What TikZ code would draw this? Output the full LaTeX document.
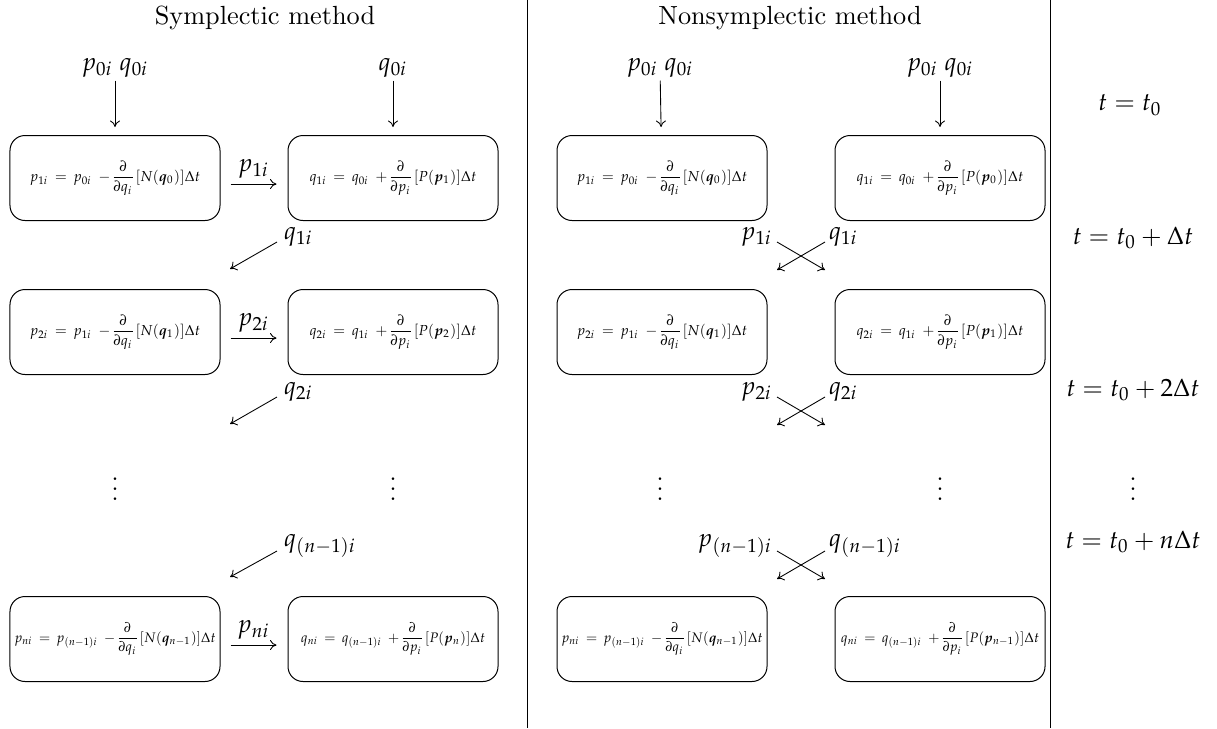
\documentclass[tikz,border=0pt]{standalone}
\usepackage[sc]{mathpazo}
\usepackage{bm}
\renewcommand\rmdefault{lmr}
\usetikzlibrary{arrows.meta}
\tikzset{
  eqbox/.style={draw, rounded corners=6pt, minimum width=84pt, minimum height=34pt, inner sep=0pt, font=\fontsize{5.8}{7}\selectfont, line width=0.4pt},
  eqboxn/.style={eqbox, font=\fontsize{5.5}{7}\selectfont},
  arr/.style={-{To[length=2.6pt,width=4pt]}, line width=0.35pt},
  lab/.style={inner sep=1pt, font=\normalsize},
  title/.style={font=\fontsize{10.5}{12}\selectfont},
  sep/.style={line width=0.35pt}
}
\newcommand{\dd}[1]{\frac{\partial}{\partial #1}}
\newcommand{\eqn}[1]{$\displaystyle #1$}
\begin{document}
\begin{tikzpicture}[x=0.4pt,y=-0.4pt]
\useasboundingbox (0,0) rectangle (1217,728);
% separators
\coordinate (s1t) at (527,0); \coordinate (s1b) at (527,728);
\coordinate (s2t) at (1050,0); \coordinate (s2b) at (1050,728);
\draw[sep] (s1t) -- (s1b);
\draw[sep] (s2t) -- (s2b);
% titles
\node[title] (t1) at (265,18) {Symplectic method};
\node[title] (t2) at (790,18) {Nonsymplectic method};
% ---------- symplectic ----------
\node[eqbox] (a1) at (115,178) {\eqn{p_{1i}\,=\,p_{0i}\;\,{-}\dd{q_i}[N(\bm{q}_0)]\Delta t}};
\node[eqbox] (b1) at (393,178) {\eqn{q_{1i}\,=\,q_{0i}\;\,{+}\dd{p_i}[P(\bm{p}_1)]\Delta t}};
\node[eqbox] (a2) at (115,332) {\eqn{p_{2i}\,=\,p_{1i}\;\,{-}\dd{q_i}[N(\bm{q}_1)]\Delta t}};
\node[eqbox] (b2) at (393,332) {\eqn{q_{2i}\,=\,q_{1i}\;\,{+}\dd{p_i}[P(\bm{p}_2)]\Delta t}};
\node[eqboxn] (a3) at (115,639) {\eqn{p_{ni}\,=\,p_{(n-1)i}\;\,{-}\dd{q_i}[N(\bm{q}_{n-1})]\Delta t}};
\node[eqboxn] (b3) at (393,639) {\eqn{q_{ni}\,=\,q_{(n-1)i}\;\,{+}\dd{p_i}[P(\bm{p}_n)]\Delta t}};
\node[lab] (la0) at (115,68) {$p_{0i}\;q_{0i}$};
\node[lab] (lb0) at (393,68) {$q_{0i}$};
\draw[arr,shorten >=3.2pt] (la0) -- (a1);
\draw[arr,shorten >=3.2pt] (lb0) -- (b1);
\draw[arr] ([shift={(10,6)}]a1.east) -- ([shift={(-11,6)}]b1.west) node[lab,midway,above=1pt] (h1) {$p_{1i}$};
\draw[arr] ([shift={(10,6)}]a2.east) -- ([shift={(-11,6)}]b2.west) node[lab,midway,above=1pt] (h2) {$p_{2i}$};
\draw[arr] ([shift={(10,6)}]a3.east) -- ([shift={(-11,6)}]b3.west) node[lab,midway,above=1pt] (h3) {$p_{ni}$};
\node[lab,anchor=west] (d1) at (281,237) {$q_{1i}$};
\coordinate (d1e) at (230,269);
\draw[arr] ([shift={(-4,5)}]d1.west) -- (d1e);
\node[lab,anchor=west] (d2) at (281,392) {$q_{2i}$};
\coordinate (d2e) at (230,424);
\draw[arr] ([shift={(-4,5)}]d2.west) -- (d2e);
\node[lab,anchor=west] (d3) at (281,546) {$q_{(n-1)i}$};
\coordinate (d3e) at (230,577);
\draw[arr] ([shift={(-4,5)}]d3.west) -- (d3e);
\node[lab] (v1) at (115,482) {$\vdots$};
\node[lab] (v2) at (393,482) {$\vdots$};
% ---------- nonsymplectic ----------
\node[eqbox] (c1) at (662,178) {\eqn{p_{1i}\,=\,p_{0i}\;\,{-}\dd{q_i}[N(\bm{q}_0)]\Delta t}};
\node[eqbox] (e1) at (940,178) {\eqn{q_{1i}\,=\,q_{0i}\;\,{+}\dd{p_i}[P(\bm{p}_0)]\Delta t}};
\node[eqbox] (c2) at (662,332) {\eqn{p_{2i}\,=\,p_{1i}\;\,{-}\dd{q_i}[N(\bm{q}_1)]\Delta t}};
\node[eqbox] (e2) at (940,332) {\eqn{q_{2i}\,=\,q_{1i}\;\,{+}\dd{p_i}[P(\bm{p}_1)]\Delta t}};
\node[eqboxn] (c3) at (662,639) {\eqn{p_{ni}\,=\,p_{(n-1)i}\;\,{-}\dd{q_i}[N(\bm{q}_{n-1})]\Delta t}};
\node[eqboxn] (e3) at (940,639) {\eqn{q_{ni}\,=\,q_{(n-1)i}\;\,{+}\dd{p_i}[P(\bm{p}_{n-1})]\Delta t}};
\node[lab] (lc0) at (660,68) {$p_{0i}\;q_{0i}$};
\node[lab] (le0) at (940,68) {$p_{0i}\;q_{0i}$};
\draw[arr,shorten >=3.2pt] (lc0) -- (c1);
\draw[arr,shorten >=3.2pt] (le0) -- (e1);
% crosses
\foreach \k/\y/\pl/\ql in {1/237/p_{1i}/q_{1i}, 2/392/p_{2i}/q_{2i}, 3/546/p_{(n-1)i}/q_{(n-1)i}}{
  \coordinate (xl\k) at (777,\y+5);
  \coordinate (xr\k) at (825,\y+5);
  \coordinate (yl\k) at (777,\y+33);
  \coordinate (yr\k) at (825,\y+33);
  \node[lab,anchor=east] (px\k) at (775,\y) {$\pl$};
  \node[lab,anchor=west] (qx\k) at (826,\y) {$\ql$};
  \draw[arr] (xl\k) -- (yr\k);
  \draw[arr] (xr\k) -- (yl\k);
}
\node[lab] (v3) at (660,482) {$\vdots$};
\node[lab] (v4) at (940,482) {$\vdots$};
% ---------- time column ----------
\node[lab] (tt0) at (1130,105) {$t=t_0$};
\node[lab] (tt1) at (1133,238) {$t=t_0+\Delta t$};
\node[lab] (tt2) at (1133,390) {$t=t_0+2\Delta t$};
\node[lab] (tt3) at (1133,482) {$\vdots$};
\node[lab] (tt4) at (1133,542) {$t=t_0+n\Delta t$};
\end{tikzpicture}
\end{document}
